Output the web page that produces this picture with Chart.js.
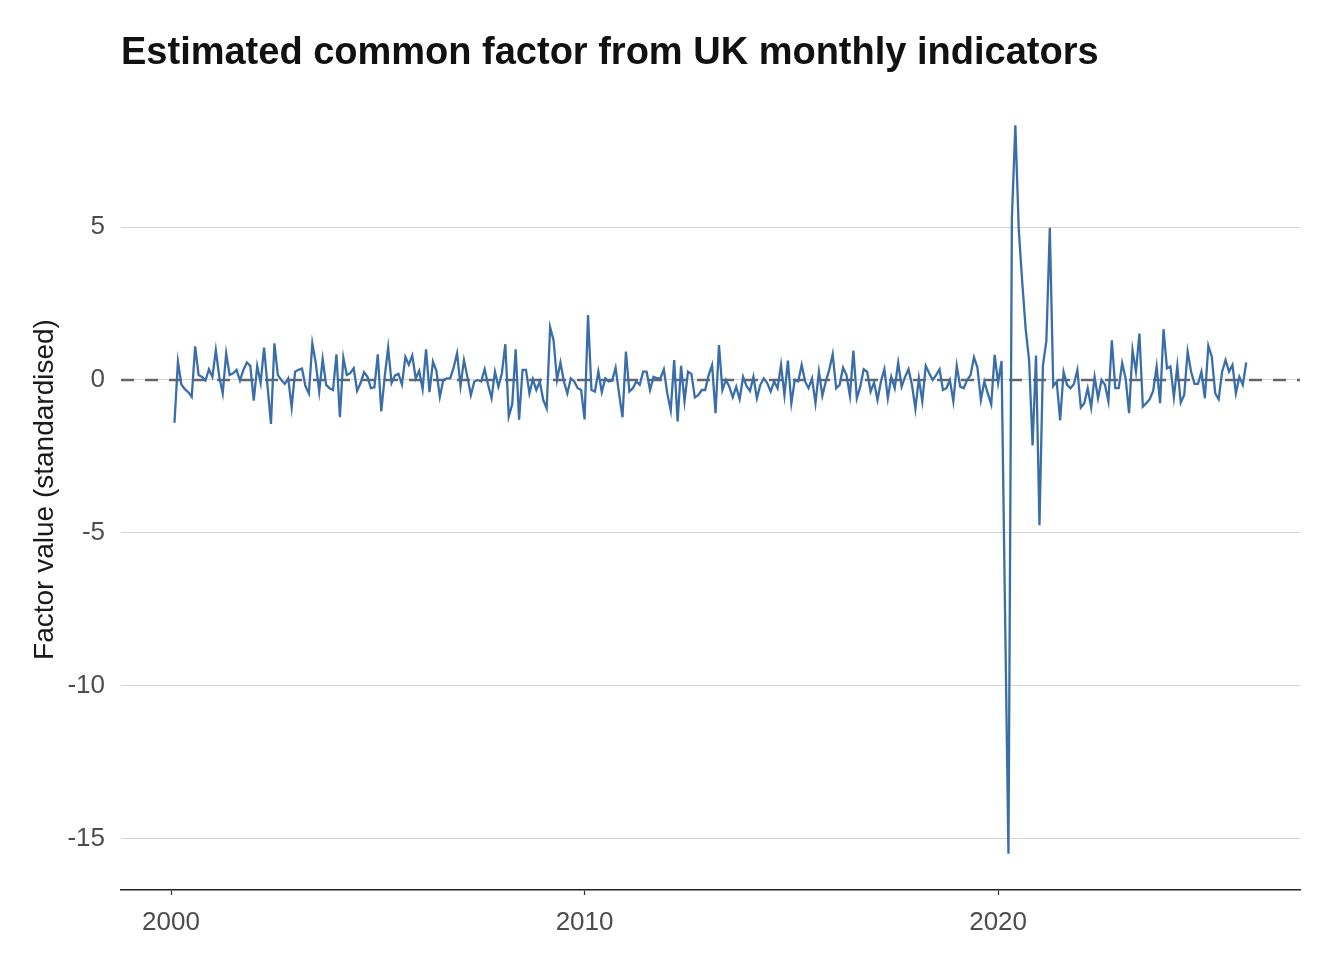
<!DOCTYPE html>
<html>
<head>
<meta charset="utf-8">
<script src="https://cdn.jsdelivr.net/npm/chart.js@4.4.1/dist/chart.umd.min.js"></script>
<style>
  body { margin: 0; background: #fff; }
  #grafico { display: block; }
</style>
</head>
<body>
<canvas id="grafico" width="1344" height="960"></canvas>
<script>
// dados: fator mensal, de fev/2000 a jan/2026
let inicioAno = 2000;
let inicioMes = 2;
let valores = [
  -1.4, 0.6, -0.15, -0.3, -0.4, -0.55, 1.1, 0.16, 0.1, -0.02,
  0.35, 0.1, 0.98, 0.1, -0.44, 0.87, 0.16, 0.22, 0.33, -0.02,
  0.33, 0.57, 0.46, -0.68, 0.46, -0.1, 1.06, -0.2, -1.44, 1.2,
  0.16, 0, -0.13, 0.05, -0.9, 0.27, 0.33, 0.37, -0.2, -0.44,
  1.2,
  0.55, -0.38, 0.68, -0.16, -0.27, -0.33, 0.84, -1.22, 0.73, 0.16,
  0.22, 0.38, -0.35, -0.1, 0.25, 0.1, -0.27, -0.24, 0.84, -1.03,
  0.1, 1.06, -0.1, 0.15, 0.2, -0.15, 0.75, 0.5, 0.8, 0.05,
  0.3, -0.3, 1.0, -0.4, 0.6, 0.3, -0.55, 0.0, 0.05, 0.05,
  0.4, 0.87, -0.2,
  0.65, 0.1, -0.5, -0.05, 0, -0.05, 0.35, -0.16, -0.6, 0.27,
  -0.22, 0.22, 1.17, -1.2, -0.8, 1.0, -1.3, 0.33, 0.33, -0.44,
  0.02, -0.33, -0.05, -0.65, -0.93, 1.72, 1.3, 0, 0.57, -0.05,
  -0.44, 0.05, -0.05, -0.27, -0.33, -1.29, 2.12, -0.33, -0.38, 0.27,
  -0.4, 0.05, -0.05, -0.02, 0.4, -0.44, -1.22, 0.93, -0.38, -0.27,
  -0.05, -0.16, 0.27, 0.27, -0.33, 0.1, 0.05, 0.05, 0.35, -0.44,
  -1.0, 0.65, -1.36, 0.46, -0.7, 0.27, 0.2, -0.57, -0.5, -0.33,
  -0.33, 0.16, 0.49, -1.09, 1.14, -0.33, 0, -0.22, -0.57, -0.22,
  -0.63, 0.1,
  -0.2, -0.36, 0.1, -0.6, -0.16, 0.05, -0.1, -0.38, -0.05, -0.27,
  0.49, -0.5, 0.63, -0.76, 0, -0.05, 0.49, -0.05, -0.27, 0.05,
  -0.76, 0.27, -0.52, -0.05, 0.33, 0.84, -0.27, -0.16, 0.4, 0.16,
  -0.52, 0.96, -0.6, -0.22, 0.35, 0.27, -0.38, -0.08, -0.65, -0.05,
  0.35, -0.6,
  0.1, -0.27, 0.57, -0.22, 0.1, 0.35, -0.16, -0.95, 0.05, -0.7,
  0.46, 0.22, 0, 0.16, 0.35, -0.33, -0.27, 0, -0.7, 0.46,
  -0.22, -0.27, 0, 0.16, 0.74, 0.4, -0.65, -0.05, -0.44, -0.8,
  0.82, -0.1, 0.62, -7.5,
  -15.5, 5.3, 8.33, 4.9, 3.2, 1.66, 0.63, -2.14, 0.8, -4.75,
  0.47, 1.27, 4.98, -0.2, -0.05, -1.32, 0.26, -0.16, -0.27, -0.13,
  0.33, -0.9, -0.76, -0.27, -0.9, 0.1, -0.6, 0, -0.16, -0.7,
  1.3, -0.27, -0.27, 0.55, 0.05, -1.09, 0.98, 0.27, 1.52, -0.87,
  -0.76, -0.63, -0.35, 0.44, -0.76, 1.66, 0.38, 0.44, -0.57, 0.46,
  -0.74, -0.49, 0.93, 0.27, -0.13, -0.13, 0.27, -0.6, 1.12, 0.76,
  -0.44, -0.63, 0.27, 0.65, 0.27, 0.49, -0.44, 0.1, -0.16, 0.57
];
let ticksX = [2000, 2010, 2020];
let ticksY = [-15, -10, -5, 0, 5];

let titulo = "Estimated common factor from UK monthly indicators";
let tituloY = "Factor value (standardised)";

// limites dos eixos (com a folga de 5%)
let xMin = 1998.79, xMax = 2027.3;
let yMin = -16.69, yMax = 9.52;

let pontos = valores.map((v, i) => ({
  x: inicioAno + (inicioMes - 1 + i) / 12,
  y: v
}));

let fonte = "'Liberation Sans', Arial, Helvetica, sans-serif";

// título desenhado à mão, alinhado com a área do gráfico
let pluginTitulo = {
  id: "titulo",
  afterDraw(chart) {
    let ctx = chart.ctx;
    ctx.save();
    ctx.font = "bold 38px " + fonte;
    ctx.fillStyle = "#111";
    ctx.textBaseline = "alphabetic";
    ctx.fillText(titulo, 121, 64);
    ctx.restore();
  }
};

let ctx = document.getElementById("grafico").getContext("2d");

let chart = new Chart(ctx, {
  type: "line",
  data: {
    datasets: [
      {
        data: pontos,
        borderColor: "#3a6ea8",
        borderWidth: 2.3,
        pointRadius: 0,
        tension: 0,
        order: 1
      },
      {
        data: [{ x: xMin, y: 0 }, { x: xMax, y: 0 }],
        borderColor: "#666666",
        borderWidth: 2.5,
        borderDash: [13, 11],
        pointRadius: 0,
        order: 2
      }
    ]
  },
  plugins: [pluginTitulo],
  options: {
    responsive: false,
    animation: false,
    devicePixelRatio: 1,
    layout: { padding: { top: 89, right: 44, left: 0, bottom: 0 } },
    plugins: {
      legend: { display: false },
      tooltip: { enabled: false }
    },
    scales: {
      x: {
        type: "linear",
        min: xMin,
        max: xMax,
        afterBuildTicks: s => { s.ticks = ticksX.map(v => ({ value: v })); },
        afterFit: s => { s.height = 70; },
        grid: {
          drawOnChartArea: false,
          drawTicks: true,
          tickLength: 5,
          tickColor: "#333",
          tickWidth: 1.2
        },
        border: { display: true, color: "#222", width: 1.6 },
        ticks: {
          callback: v => String(v),
          color: "#4d4d4d",
          font: { family: fonte, size: 26 },
          padding: 12,
          maxRotation: 0
        }
      },
      y: {
        min: yMin,
        max: yMax,
        afterBuildTicks: s => { s.ticks = ticksY.map(v => ({ value: v })); },
        afterFit: s => { s.width = 121; },
        grid: {
          color: "#d3d3d3",
          lineWidth: 1.1,
          drawTicks: false
        },
        border: { display: false },
        ticks: {
          callback: v => String(v),
          color: "#4d4d4d",
          font: { family: fonte, size: 26 },
          padding: 16
        },
        title: {
          display: true,
          text: tituloY,
          color: "#1a1a1a",
          font: { family: fonte, size: 28 },
          padding: { top: 28, bottom: 0 }
        }
      }
    }
  }
});
</script>
</body>
</html>
